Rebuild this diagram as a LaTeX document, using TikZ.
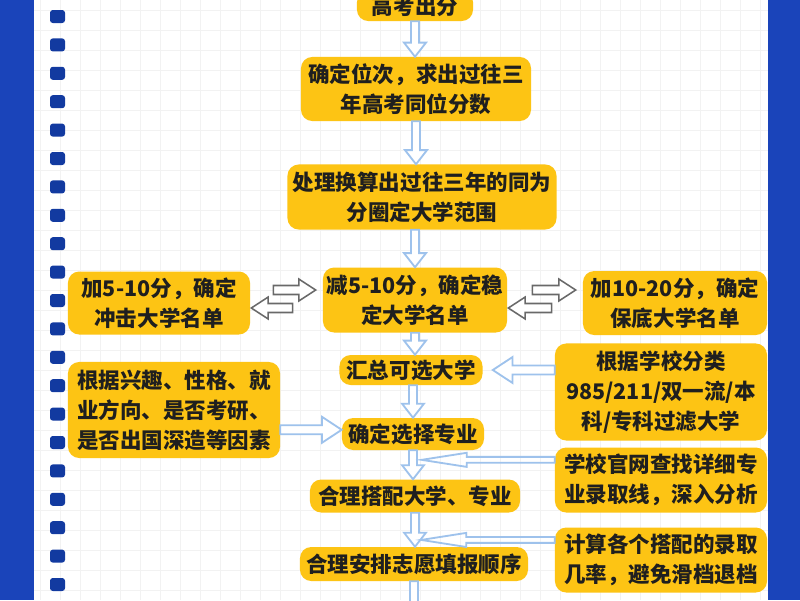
\documentclass[tikz,border=0pt]{standalone}
\usepackage{fontspec}
\setmainfont{Noto Sans CJK SC}
\usetikzlibrary{calc,positioning}

\definecolor{stripblue}{RGB}{26,68,186}
\definecolor{holeblue}{RGB}{18,58,160}
\definecolor{boxyellow}{RGB}{253,196,20}
\definecolor{arrowblue}{RGB}{158,194,236}
\definecolor{arrowgray}{RGB}{105,105,105}

\tikzset{hollow/.style args={#1/#2/#3}{to path={
	let \p1=(\tikztostart), \p2=(\tikztotarget), \p3=($(\p2)!#3!(\p1)$) in
	($(\p1)!#1!90:(\p2)$) -- ($(\p3)!#1!-90:(\p1)$) -- ($(\p3)!#2!-90:(\p1)$) -- (\p2)
	-- ($(\p3)!#2!90:(\p1)$) -- ($(\p3)!#1!90:(\p1)$) -- ($(\p1)!#1!-90:(\p2)$) -- cycle}}}

\begin{document}
\begin{tikzpicture}[x=0.025cm, y=-0.025cm]
		\tikzstyle{stage} = [rectangle, rounded corners=8pt, fill=boxyellow, inner sep=0pt, align=center, text=black!88, font=\fontsize{15.3}{21.3}\selectfont\bfseries]
		\tikzstyle{downarr} = [draw=arrowblue, line width=1.3pt, fill=white, hollow=2.8pt/7.8pt/10pt]
		\tikzstyle{bigarr} = [draw=arrowblue, line width=1.3pt, fill=white, hollow=3.2pt/9.2pt/14pt]
		\tikzstyle{thinarr} = [draw=arrowblue, line width=1.3pt, hollow=2.1pt/5pt/32pt]
		\tikzstyle{swaparr} = [draw=arrowgray, line width=1.1pt, fill=white, hollow=3.2pt/7.8pt/12pt]

		\useasboundingbox (0,0) rectangle (800,600);
		\clip (0,0) rectangle (800,600);

		% page and binder holes
		\fill[stripblue] (0,0) rectangle (800,600);
		\fill[white] (34,0) rectangle (768,600);
		\foreach \g in {40,60,...,760}
			\draw[black!5, line width=0.4pt] (\g,0) -- (\g,600);
		\foreach \g in {10,30,...,590}
			\draw[black!5, line width=0.4pt] (34,\g) -- (768,\g);
		\foreach \k in {0, ..., 20}
			\fill[holeblue, rounded corners=2pt] (50,{10+28.4*\k}) rectangle (65,{23+28.4*\k});

		% main column
		\node[stage, minimum width=2.9cm, minimum height=0.75cm] (score) at (415,6) {高考出分};
		\node[stage, minimum width=5.75cm, minimum height=1.6cm] (rank) at (416,89) {确定位次，求出过往三\\年高考同位分数};
		\node[stage, minimum width=6.725cm, minimum height=1.625cm] (range) at (422,197) {处理换算出过往三年的同为\\分圈定大学范围};
		\node[stage, minimum width=4.6cm, minimum height=1.625cm] (wen) at (415,300) {减5-10分，确定稳\\定大学名单};
		\node[stage, minimum width=3.575cm, minimum height=0.75cm] (huizong) at (411,370) {汇总可选大学};
		\node[stage, minimum width=3.55cm, minimum height=0.8cm] (zhuanye) at (413,434) {确定选择专业};
		\node[stage, minimum width=5.25cm, minimum height=0.825cm] (dapei) at (415,496) {合理搭配大学、专业};
		\node[stage, minimum width=5.7cm, minimum height=0.85cm] (shunxu) at (414,564) {合理安排志愿填报顺序};
		\coordinate (more) at (414,640);

		% side boxes
		\node[stage, minimum width=4.55cm, minimum height=1.575cm] (chong) at (159,303) {加5-10分，确定\\冲击大学名单};
		\node[stage, minimum width=4.6cm, minimum height=1.6cm] (bao) at (675,303) {加10-20分，确定\\保底大学名单};
		\node[stage, minimum width=5.3cm, minimum height=2.4cm] (xingqu) at (174,410) {根据兴趣、性格、就\\业方向、是否考研、\\是否出国深造等因素};
		\node[stage, minimum width=5.3cm, minimum height=2.425cm] (fenlei) at (661,392) {根据学校分类\\985/211/双一流/本\\科/专科过滤大学};
		\node[stage, minimum width=5.3cm, minimum height=1.625cm] (guanwang) at (661,480) {学校官网查找详细专\\业录取线，深入分析};
		\node[stage, minimum width=5.3cm, minimum height=1.625cm] (jilv) at (661,560) {计算各个搭配的录取\\几率，避免滑档退档};

		% main flow
		\draw[downarr] (score.south) to (score.south |- rank.north);
		\draw[downarr] (rank.south) to (rank.south |- range.north);
		\draw[downarr] (wen.north |- range.south) to (wen.north);
		\draw[downarr] (wen.south) to (wen.south |- huizong.north);
		\draw[downarr] (zhuanye.north |- huizong.south) to (zhuanye.north);
		\draw[downarr] (zhuanye.south) to (zhuanye.south |- dapei.north);
		\draw[downarr] (dapei.south) to (dapei.south |- shunxu.north);
		\draw[downarr] (shunxu.south) to (shunxu.south |- more);

		% inputs from the sides
		\draw[bigarr] (fenlei.west |- huizong) to ($(huizong.east)+(10,0)$);
		\draw[bigarr] ([yshift=3pt]xingqu.east |- zhuanye.west) to ([yshift=3pt]zhuanye.west);
		\coordinate (tipA) at ($(zhuanye.south)!0.33!(dapei.north)+(8,0)$);
		\coordinate (tipB) at ($(dapei.south)!0.8!(shunxu.north)+(7,0)$);
		\draw[thinarr] (guanwang.west |- tipA) to (tipA);
		\draw[thinarr] (jilv.west |- tipB) to (tipB);

		% score adjustments
		\draw[swaparr] ($(chong.east)+(23,-13)$) to ($(wen.west)+(-7,-10)$);
		\draw[swaparr] ($(wen.west)+(-30,8)$) to ($(chong.east)+(1,5)$);
		\draw[swaparr] ($(wen.east)+(25,-10)$) to ($(bao.west)+(-7,-13)$);
		\draw[swaparr] ($(bao.west)+(-31,5)$) to ($(wen.east)+(1,8)$);
	\end{tikzpicture}
\end{document}
